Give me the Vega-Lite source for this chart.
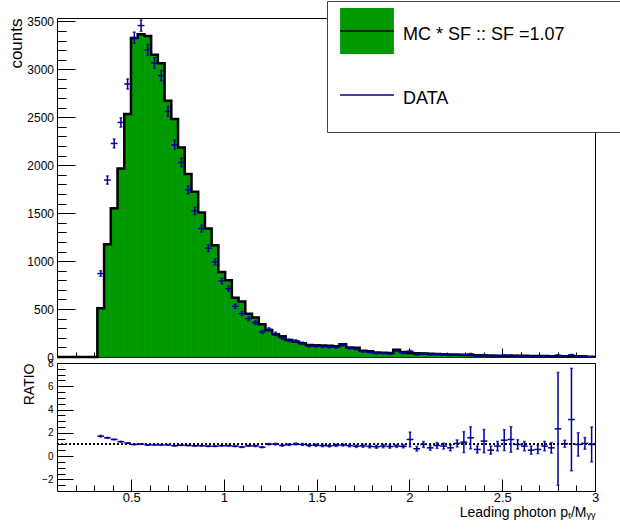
{
"$schema":"https://vega.github.io/schema/vega-lite/v6.json",
"background":"white",
"padding":{"left":7,"top":0,"right":0,"bottom":0},
"config":{"font":"Liberation Sans","view":{"stroke":"black","strokeWidth":1},
"axis":{"domain":false,"grid":false,"labelFont":"Liberation Sans","titleFont":"Liberation Sans","labelColor":"black","titleColor":"black","tickColor":"black","tickWidth":1,"titleFontWeight":"normal","labelFlush":false,"labelOverlap":false},
"legend":{"labelFont":"Liberation Sans"}},
"datasets":{"h":[
{"lo":0.1,"hi":0.13625,"c":0.118125,"mc":0},
{"lo":0.13625,"hi":0.1725,"c":0.154375,"mc":0},
{"lo":0.1725,"hi":0.20875,"c":0.190625,"mc":0},
{"lo":0.20875,"hi":0.245,"c":0.226875,"mc":0},
{"lo":0.245,"hi":0.28125,"c":0.263125,"mc":0},
{"lo":0.28125,"hi":0.3175,"c":0.299375,"mc":0},
{"lo":0.3175,"hi":0.35375,"c":0.335625,"mc":508,"d":870,"de":29,"r":1.71,"re":0.07},
{"lo":0.35375,"hi":0.39,"c":0.371875,"mc":1176,"d":1845,"de":43,"r":1.57,"re":0.04},
{"lo":0.39,"hi":0.42625,"c":0.408125,"mc":1552,"d":2227,"de":47,"r":1.43,"re":0.03},
{"lo":0.42625,"hi":0.4625,"c":0.444375,"mc":1966,"d":2446,"de":49,"r":1.24,"re":0.03},
{"lo":0.4625,"hi":0.49875,"c":0.480625,"mc":2533,"d":2847,"de":53,"r":1.12,"re":0.02},
{"lo":0.49875,"hi":0.535,"c":0.516875,"mc":3327,"d":3330,"de":58,"r":1.0,"re":0.02},
{"lo":0.535,"hi":0.57125,"c":0.553125,"mc":3365,"d":3456,"de":59,"r":1.03,"re":0.02},
{"lo":0.57125,"hi":0.6075,"c":0.589375,"mc":3348,"d":3202,"de":57,"r":0.96,"re":0.02},
{"lo":0.6075,"hi":0.64375,"c":0.625625,"mc":3153,"d":3066,"de":55,"r":0.97,"re":0.02},
{"lo":0.64375,"hi":0.68,"c":0.661875,"mc":3062,"d":2934,"de":54,"r":0.96,"re":0.02},
{"lo":0.68,"hi":0.71625,"c":0.698125,"mc":2673,"d":2561,"de":51,"r":0.96,"re":0.02},
{"lo":0.71625,"hi":0.7525,"c":0.734375,"mc":2481,"d":2213,"de":47,"r":0.89,"re":0.02},
{"lo":0.7525,"hi":0.78875,"c":0.770625,"mc":2185,"d":2029,"de":45,"r":0.93,"re":0.02},
{"lo":0.78875,"hi":0.825,"c":0.806875,"mc":1907,"d":1743,"de":42,"r":0.91,"re":0.02},
{"lo":0.825,"hi":0.86125,"c":0.843125,"mc":1723,"d":1524,"de":39,"r":0.88,"re":0.02},
{"lo":0.86125,"hi":0.8975,"c":0.879375,"mc":1507,"d":1340,"de":37,"r":0.89,"re":0.03},
{"lo":0.8975,"hi":0.93375,"c":0.915625,"mc":1340,"d":1135,"de":34,"r":0.85,"re":0.03},
{"lo":0.93375,"hi":0.97,"c":0.951875,"mc":1166,"d":992,"de":31,"r":0.85,"re":0.03},
{"lo":0.97,"hi":1.00625,"c":0.988125,"mc":887,"d":793,"de":28,"r":0.89,"re":0.03},
{"lo":1.00625,"hi":1.0425,"c":1.024375,"mc":800,"d":713,"de":27,"r":0.89,"re":0.03},
{"lo":1.0425,"hi":1.07875,"c":1.060625,"mc":619,"d":529,"de":23,"r":0.85,"re":0.04},
{"lo":1.07875,"hi":1.115,"c":1.096875,"mc":578,"d":452,"de":21,"r":0.78,"re":0.04},
{"lo":1.115,"hi":1.15125,"c":1.133125,"mc":452,"d":400,"de":20,"r":0.88,"re":0.04},
{"lo":1.15125,"hi":1.1875,"c":1.169375,"mc":411,"d":358,"de":19,"r":0.87,"re":0.05},
{"lo":1.1875,"hi":1.22375,"c":1.205625,"mc":341,"d":261,"de":16,"r":0.77,"re":0.05},
{"lo":1.22375,"hi":1.26,"c":1.241875,"mc":282,"d":289,"de":17,"r":1.02,"re":0.06},
{"lo":1.26,"hi":1.29625,"c":1.278125,"mc":237,"d":243,"de":16,"r":1.03,"re":0.07},
{"lo":1.29625,"hi":1.3325,"c":1.314375,"mc":216,"d":198,"de":14,"r":0.92,"re":0.07},
{"lo":1.3325,"hi":1.36875,"c":1.350625,"mc":177,"d":174,"de":13,"r":0.98,"re":0.07},
{"lo":1.36875,"hi":1.405,"c":1.386875,"mc":160,"d":167,"de":13,"r":1.04,"re":0.08},
{"lo":1.405,"hi":1.44125,"c":1.423125,"mc":143,"d":143,"de":12,"r":1.0,"re":0.08},
{"lo":1.44125,"hi":1.4775,"c":1.459375,"mc":125,"d":115,"de":11,"r":0.92,"re":0.09},
{"lo":1.4775,"hi":1.51375,"c":1.495625,"mc":122,"d":113,"de":11,"r":0.93,"re":0.09},
{"lo":1.51375,"hi":1.55,"c":1.531875,"mc":120,"d":108,"de":10,"r":0.9,"re":0.09},
{"lo":1.55,"hi":1.58625,"c":1.568125,"mc":118,"d":104,"de":10,"r":0.88,"re":0.09},
{"lo":1.58625,"hi":1.6225,"c":1.604375,"mc":112,"d":103,"de":10,"r":0.92,"re":0.09},
{"lo":1.6225,"hi":1.65875,"c":1.640625,"mc":132,"d":125,"de":11,"r":0.95,"re":0.09},
{"lo":1.65875,"hi":1.695,"c":1.676875,"mc":100,"d":90,"de":9,"r":0.9,"re":0.1},
{"lo":1.695,"hi":1.73125,"c":1.713125,"mc":96,"d":82,"de":9,"r":0.85,"re":0.1},
{"lo":1.73125,"hi":1.7675,"c":1.749375,"mc":64,"d":56,"de":7,"r":0.88,"re":0.12},
{"lo":1.7675,"hi":1.80375,"c":1.785625,"mc":60,"d":50,"de":7,"r":0.83,"re":0.12},
{"lo":1.80375,"hi":1.84,"c":1.821875,"mc":48,"d":38,"de":6,"r":0.8,"re":0.13},
{"lo":1.84,"hi":1.87625,"c":1.858125,"mc":45,"d":39,"de":6,"r":0.86,"re":0.14},
{"lo":1.87625,"hi":1.9125,"c":1.894375,"mc":43,"d":35,"de":6,"r":0.82,"re":0.14},
{"lo":1.9125,"hi":1.94875,"c":1.930625,"mc":75,"d":65,"de":8,"r":0.86,"re":0.11},
{"lo":1.94875,"hi":1.985,"c":1.966875,"mc":52,"d":44,"de":7,"r":0.84,"re":0.13},
{"lo":1.985,"hi":2.02125,"c":2.003125,"mc":42,"d":60,"de":8,"r":1.43,"re":0.63},
{"lo":2.02125,"hi":2.0575,"c":2.039375,"mc":40,"d":25,"de":5,"r":0.63,"re":0.2},
{"lo":2.0575,"hi":2.09375,"c":2.075625,"mc":37,"d":37,"de":6,"r":1.0,"re":0.25},
{"lo":2.09375,"hi":2.13,"c":2.111875,"mc":34,"d":24,"de":5,"r":0.71,"re":0.2},
{"lo":2.13,"hi":2.16625,"c":2.148125,"mc":32,"d":29,"de":5,"r":0.91,"re":0.25},
{"lo":2.16625,"hi":2.2025,"c":2.184375,"mc":28,"d":24,"de":5,"r":0.86,"re":0.25},
{"lo":2.2025,"hi":2.23875,"c":2.220625,"mc":26,"d":18,"de":4,"r":0.71,"re":0.25},
{"lo":2.23875,"hi":2.275,"c":2.256875,"mc":24,"d":26,"de":5,"r":1.09,"re":0.3},
{"lo":2.275,"hi":2.31125,"c":2.293125,"mc":21,"d":25,"de":5,"r":1.2,"re":0.9},
{"lo":2.31125,"hi":2.3475,"c":2.329375,"mc":20,"d":31,"de":6,"r":1.57,"re":0.95},
{"lo":2.3475,"hi":2.38375,"c":2.365625,"mc":18,"d":10,"de":3,"r":0.57,"re":0.3},
{"lo":2.38375,"hi":2.42,"c":2.401875,"mc":16,"d":21,"de":5,"r":1.29,"re":1.0},
{"lo":2.42,"hi":2.45625,"c":2.438125,"mc":15,"d":8,"de":3,"r":0.51,"re":0.35},
{"lo":2.45625,"hi":2.4925,"c":2.474375,"mc":14,"d":12,"de":3,"r":0.86,"re":0.4},
{"lo":2.4925,"hi":2.52875,"c":2.510625,"mc":13,"d":18,"de":4,"r":1.37,"re":0.9},
{"lo":2.52875,"hi":2.565,"c":2.546875,"mc":12,"d":17,"de":4,"r":1.43,"re":1.1},
{"lo":2.565,"hi":2.60125,"c":2.583125,"mc":13,"d":13,"de":4,"r":1.0,"re":0.4},
{"lo":2.60125,"hi":2.6375,"c":2.619375,"mc":12,"d":10,"de":3,"r":0.86,"re":0.4},
{"lo":2.6375,"hi":2.67375,"c":2.655625,"mc":11,"d":6,"de":2,"r":0.51,"re":0.35},
{"lo":2.67375,"hi":2.71,"c":2.691875,"mc":10,"d":6,"de":2,"r":0.57,"re":0.35},
{"lo":2.71,"hi":2.74625,"c":2.728125,"mc":10,"d":9,"de":3,"r":0.86,"re":0.4},
{"lo":2.74625,"hi":2.7825,"c":2.764375,"mc":9,"d":6,"de":2,"r":0.71,"re":0.45},
{"lo":2.7825,"hi":2.81875,"c":2.800625,"mc":8,"d":19,"de":4,"r":2.34,"re":4.85},
{"lo":2.81875,"hi":2.855,"c":2.836875,"mc":8,"d":8,"de":3,"r":1.06,"re":0.3},
{"lo":2.855,"hi":2.89125,"c":2.873125,"mc":7,"d":22,"de":5,"r":3.14,"re":4.4},
{"lo":2.89125,"hi":2.9275,"c":2.909375,"mc":7,"d":7,"de":3,"r":1.0,"re":1.0},
{"lo":2.9275,"hi":2.96375,"c":2.945625,"mc":6,"d":7,"de":3,"r":1.09,"re":0.5},
{"lo":2.96375,"hi":3.0,"c":2.981875,"mc":6,"d":6,"de":2,"r":1.0,"re":1.5}
]},
"spacing":6,
"bounds":"flush",
"resolve":{"scale":{"fill":"independent","stroke":"independent"},"legend":{"fill":"independent","stroke":"independent"}},
"vconcat":[
{"width":538,"height":339,"data":{"name":"h"},
"resolve":{"axis":{"x":"independent","y":"independent"}},
"layer":[
{"mark":{"type":"rect","stroke":"#009900","strokeWidth":0.7},
"encoding":{
"x":{"field":"lo","type":"quantitative","scale":{"domain":[0.1,3],"nice":false,"zero":false},
"axis":{"orient":"bottom","title":null,"labels":false,"labelOverlap":false,"tickSize":-9,"values":[0.5,1,1.5,2,2.5,3]}},
"x2":{"field":"hi"},
"y":{"field":"mc","type":"quantitative","scale":{"domain":[0,3535],"nice":false,"zero":false},
"axis":{"orient":"left","title":"counts","titleFontSize":17,"titleAnchor":"end","titlePadding":1,"labelFontSize":12,"tickSize":-18,"labelPadding":21.5,"format":".6~g","labelOverlap":false,
"values":[0,500,1000,1500,2000,2500,3000,3500]}},
"y2":{"datum":0},
"fill":{"datum":"MC * SF :: SF =1.07","type":"nominal","scale":{"domain":["MC * SF :: SF =1.07","DATA"],"range":["#009900","transparent"]},
"legend":{"title":null,"orient":"none","legendX":270,"legendY":-17,"padding":10,"fillColor":"white","strokeColor":"#444444","symbolType":"M-1.17,-1.17H1.17V0.83H-1.17Z","symbolSize":2116,"symbolStrokeWidth":1.5,"symbolStrokeColor":"transparent","symbolOffset":6,"labelFontSize":18,"labelColor":"black","labelOffset":12,"labelLimit":600,"rowPadding":11,"zindex":0,
"labelExpr":"datum.label + '\u2800\u2800\u2800\u2800'"}}
}},
{"mark":{"type":"line","interpolate":"step-after","strokeWidth":2.5},
"encoding":{"x":{"field":"lo","type":"quantitative","axis":{"orient":"bottom","title":null,"labels":false,"labelOverlap":false,"tickSize":-5,"values":[0.2,0.3,0.4,0.6,0.7,0.8,0.9,1.1,1.2,1.3,1.4,1.6,1.7,1.8,1.9,2.1,2.2,2.3,2.4,2.6,2.7,2.8,2.9]}},
"y":{"field":"mc","type":"quantitative","axis":{"orient":"left","title":null,"labels":false,"labelOverlap":false,"tickSize":-9,"values":[100,200,300,400,600,700,800,900,1100,1200,1300,1400,1600,1700,1800,1900,2100,2200,2300,2400,2600,2700,2800,2900,3100,3200,3300,3400]}},
"stroke":{"datum":"h","type":"nominal","scale":{"domain":["h","d"],"range":["black","#000099"]},
"legend":{"title":null,"orient":"none","legendX":270,"legendY":-17,"padding":10,"fillColor":"transparent","strokeColor":"transparent","symbolType":"M-1.17,-1.17M1.17,0.83M-1.17,-0.17H1.17","symbolSize":2116,"symbolStrokeWidth":1.5,"symbolFillColor":"transparent","symbolOffset":6,"labelFontSize":18,"labelOpacity":0,"labelOffset":12,"rowPadding":11,"zindex":1}}}},
{"transform":[{"filter":"isValid(datum.d)"}],"mark":{"type":"rule","strokeWidth":1.5},
"encoding":{"x":{"field":"lo","type":"quantitative","axis":null},"x2":{"field":"hi"},"y":{"field":"d","type":"quantitative","axis":null},"stroke":{"datum":"d","type":"nominal"}}},
{"transform":[{"filter":"isValid(datum.d)"}],"mark":{"type":"errorbar","ticks":{"size":3},"thickness":1.5,"color":"#000099"},
"encoding":{"x":{"field":"c","type":"quantitative","axis":null},"y":{"field":"d","type":"quantitative","axis":null},"yError":{"field":"de"}}}
]},
{"width":538,"height":128,"data":{"name":"h"},
"resolve":{"axis":{"x":"independent","y":"independent"}},
"layer":[
{"mark":{"type":"rule","strokeDash":[1.5,2.5],"color":"black","strokeWidth":1},
"encoding":{"y":{"datum":1,"type":"quantitative","scale":{"domain":[-3,8],"nice":false,"zero":false},
"axis":{"orient":"left","title":"RATIO","titleFontSize":14,"titleAnchor":"end","titlePadding":5,"labelFontSize":10,"tickSize":-16,"labelPadding":20,"format":".6~g","labelOverlap":false,
"values":[-2,0,2,4,6,8]}}}},
{"transform":[{"filter":"isValid(datum.r)"}],"mark":{"type":"rule","strokeWidth":1.5,"color":"#000099"},
"encoding":{"x":{"field":"lo","type":"quantitative","scale":{"domain":[0.1,3],"nice":false,"zero":false},
"axis":{"orient":"bottom","title":"Leading photon pₜ/Mᵧᵧ","titleFontSize":14,"titleAnchor":"end","titlePadding":1,"labelFontSize":13,"tickSize":-12,"labelPadding":12,"format":".6~g","labelOverlap":false,
"values":[0.5,1,1.5,2,2.5,3]}},
"x2":{"field":"hi"},
"y":{"field":"r","type":"quantitative","axis":{"orient":"left","title":null,"labels":false,"labelOverlap":false,"tickSize":-8,"values":[-2.5,-1.5,-1,-0.5,0.5,1,1.5,2.5,3,3.5,4.5,5,5.5,6.5,7,7.5]}}}},
{"transform":[{"filter":"isValid(datum.r)"}],"mark":{"type":"errorbar","ticks":{"size":3},"thickness":1.5,"color":"#000099"},
"encoding":{"x":{"field":"c","type":"quantitative","axis":{"orient":"bottom","title":null,"labels":false,"labelOverlap":false,"tickSize":-6,"values":[0.2,0.3,0.4,0.6,0.7,0.8,0.9,1.1,1.2,1.3,1.4,1.6,1.7,1.8,1.9,2.1,2.2,2.3,2.4,2.6,2.7,2.8,2.9]}},
"y":{"field":"r","type":"quantitative","axis":null},"yError":{"field":"re"}}}
]}
]
}
